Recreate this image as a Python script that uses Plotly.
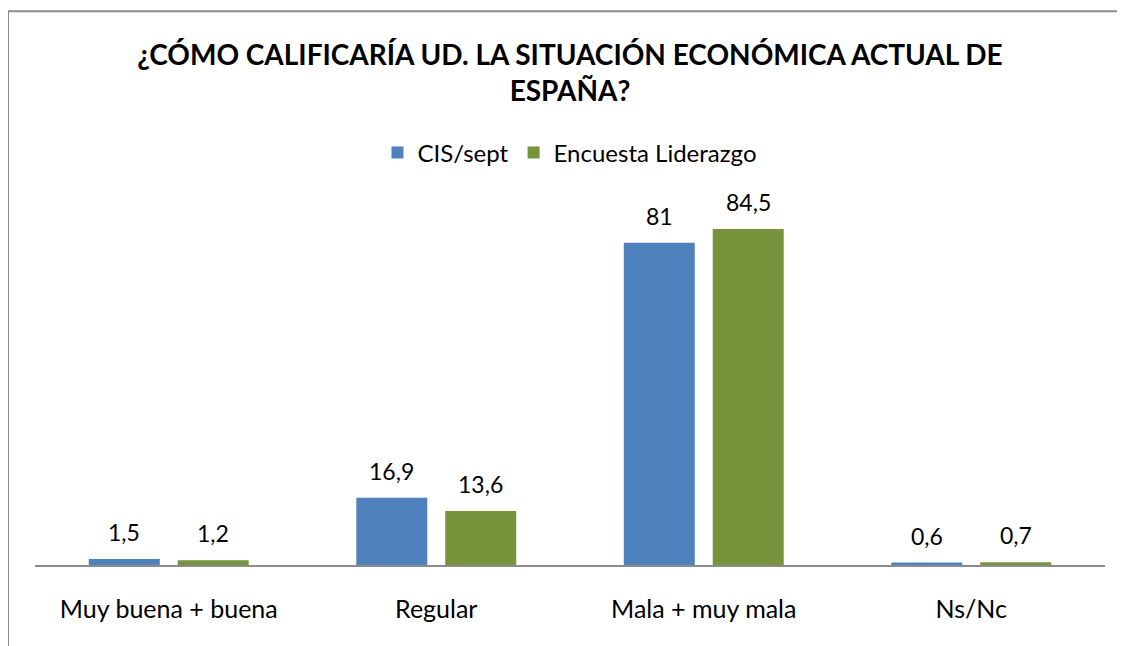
import plotly.graph_objects as go

categories = ["Muy buena + buena", "Regular", "Mala + muy mala", "Ns/Nc"]
cis_sept = [1.5, 16.9, 81, 0.6]
encuesta = [1.2, 13.6, 84.5, 0.7]
series_names = ["CIS/sept", "Encuesta Liderazgo"]
colors = ["#4F81BD", "#77933C"]

FONT = "Lato, Carlito, Calibri, sans-serif"

def fmt(v):
    s = ("%g" % v)
    return s.replace(".", ",")

fig = go.Figure()
for name, vals, col in zip(series_names, [cis_sept, encuesta], colors):
    fig.add_trace(go.Bar(x=categories, y=vals, name=name, marker_color=col,
                         marker_line_width=0))

annotations = []
for vals, shift in [(cis_sept, -44.5), (encuesta, 44.5)]:
    for c, v in zip(categories, vals):
        annotations.append(dict(x=c, y=v, xref="x", yref="y", text=fmt(v),
                                showarrow=False, xshift=shift, yshift=27,
                                yanchor="middle",
                                font=dict(family=FONT, size=23, color="#000")))

fig.update_layout(
    width=1125, height=646,
    margin=dict(l=27, r=28, t=199, b=89),
    paper_bgcolor="white", plot_bgcolor="white",
    barmode="group", bargap=0.335, bargroupgap=0.202,
    title=dict(text="¿CÓMO CALIFICARÍA UD. LA SITUACIÓN ECONÓMICA ACTUAL DE<br>ESPAÑA?",
               x=0.5, xref="paper", xanchor="center", y=0.912, yref="container",
               yanchor="middle",
               font=dict(family=FONT, size=28, color="#000", weight="bold")),
    legend=dict(orientation="h", x=0.5, xanchor="center", y=1.151, yanchor="middle",
                font=dict(family=FONT, size=24, color="#000"),
                itemwidth=30, traceorder="normal"),
    annotations=annotations,
    shapes=[dict(type="rect", xref="paper", yref="paper", x0=-0.0252, x1=1.0178,
                 y0=-0.4, y1=1.547, line=dict(color="#8C8C8C", width=2),
                 fillcolor="rgba(0,0,0,0)", layer="below")],
    showlegend=True,
)
fig.update_xaxes(showline=True, linecolor="#8C8C8C", linewidth=2, showgrid=False,
                 ticks="", ticklabelstandoff=21,
                 tickfont=dict(family=FONT, size=25, color="#000"))
fig.update_yaxes(range=[0, 90], visible=False, showgrid=False, zeroline=False)

fig.write_html("out.html")
